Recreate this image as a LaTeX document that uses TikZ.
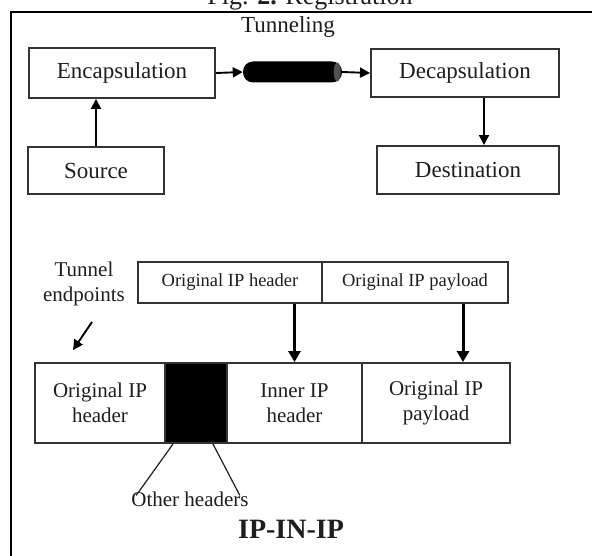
\documentclass[tikz,border=0pt]{standalone}
\usepackage{fontspec}
\setmainfont{Liberation Serif}
\usetikzlibrary{arrows.meta,calc}
\definecolor{ink}{HTML}{1E1E1E}
\definecolor{edge}{HTML}{333333}
\definecolor{capend}{HTML}{505050}

\begin{document}
\begin{tikzpicture}[x=1pt,y=-1pt,
  box/.style={draw=edge, line width=1.9pt, rectangle, inner sep=0pt, text=ink},
  flow/.style={draw=black, line width=1.9pt, -{Triangle[length=10pt,width=10pt]}},
  bigflow/.style={draw=black, line width=3pt, -{Triangle[length=11pt,width=12pt]}},
  lbl/.style={text=ink, inner sep=0pt},
  big/.style={font=\fontsize{23}{27}\selectfont},
  mid/.style={font=\fontsize{21}{25}\selectfont},
  small/.style={font=\fontsize{18.5}{22}\selectfont}]
\useasboundingbox (0,0) rectangle (592,556);
\clip (0,0) rectangle (592,556);
\fill[white] (0,0) rectangle (592,556);

% caption (its upper half lies above the page)
\node[lbl, anchor=base, font=\fontsize{26}{30}\selectfont] (cap) at (310,5) {Fig. \textbf{2.} Registration};

% frame
\draw[line width=2pt] (11,556) -- (11,12) -- (592,12);

% ---- tunneling flow ----
\node[lbl, big] (tun) at (288,27) {Tunneling};
\node[box, big, minimum width=186pt, minimum height=50pt] (enc) at (122,73) {Encapsulation};
\node[box, big, minimum width=136pt, minimum height=47pt] (src) at (96,170.5) {Source};
\node[box, big, minimum width=188pt, minimum height=48pt] (dec) at (465,73) {Decapsulation};
\node[box, big, minimum width=182pt, minimum height=48pt] (dst) at (468,170) {Destination};
\node[fill=black, rounded corners=10pt, minimum width=99pt, minimum height=21pt, inner sep=0pt] (cyl) at (292.5,72) {};
\fill[capend] ($(cyl.east)+(-5,0)$) ellipse (3.5pt and 9.5pt);

\draw[flow] (src.north) -- (src.north |- enc.south);
\draw[flow] (enc.east) -- (cyl.west);
\draw[flow] (cyl.east) -- (dec.west);
\draw[flow] ([xshift=19pt]dec.south) -- ([xshift=19pt]dec.south |- dst.north);

% ---- IP-in-IP packet ----
\node[lbl, mid, align=center] (ends) at (84,284) {Tunnel\\endpoints};
\coordinate (endsA) at (92,322);
\coordinate (endsB) at (73,350);
\draw[flow] (endsA) -- (endsB);

\node[box, small, minimum width=184pt, minimum height=41pt] (oih) at (230,282.5) {Original IP header};
\node[box, small, minimum width=186pt, minimum height=41pt] (oip) at (415,282.5) {Original IP payload};

\node[box, mid, align=center, minimum width=130pt, minimum height=80pt] (b1) at (100,403) {Original IP\\header};
\node[box, fill=black, minimum width=62pt, minimum height=80pt] (blk) at (196,403) {};
\node[box, mid, align=center, minimum width=135pt, minimum height=80pt] (b3) at (294.5,403) {Inner IP\\header};
\node[box, mid, align=center, minimum width=148pt, minimum height=80pt] (b4) at (436,403) {Original IP\\payload};

\draw[bigflow] (b3.north |- oih.south) -- (b3.north);
\draw[bigflow] ([xshift=27pt]b4.north |- oip.south) -- ([xshift=27pt]b4.north);

\node[lbl, mid] (oth) at (190,499) {Other headers};
\draw[line width=1.2pt, draw=ink] ($(blk.south west)+(9,0)$) -- ($(oth.north west)+(5,4)$);
\draw[line width=1.2pt, draw=ink] ($(blk.south east)+(-15,0)$) -- ($(oth.north east)+(-9,4)$);

\node[lbl, font=\fontsize{28}{32}\selectfont\bfseries] (ipip) at (291,529) {IP-IN-IP};
\end{tikzpicture}
\end{document}
